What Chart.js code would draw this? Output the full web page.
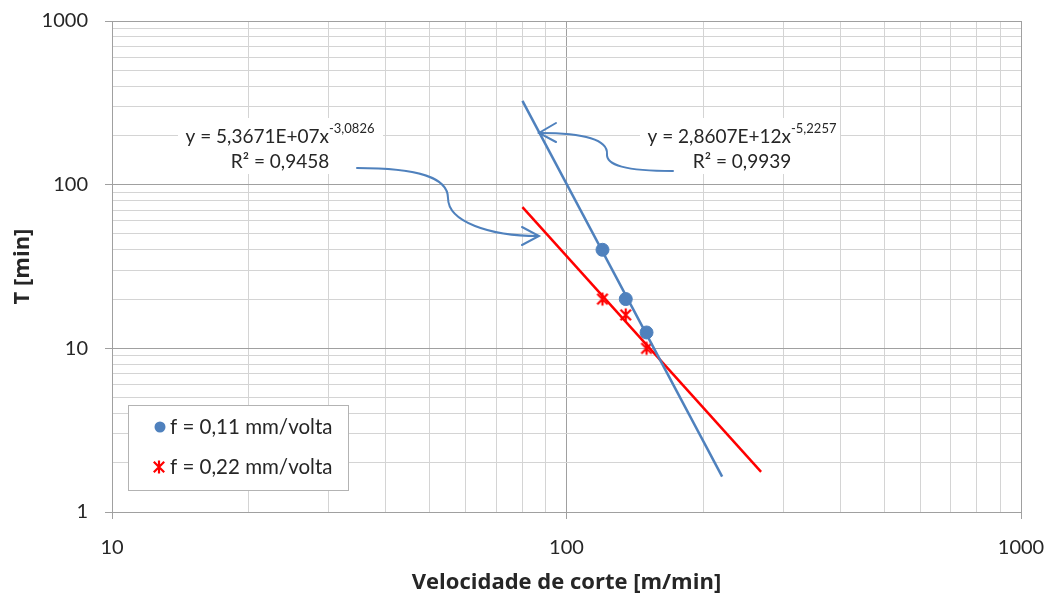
<!DOCTYPE html>
<html>
<head>
<meta charset="utf-8">
<script src="https://cdn.jsdelivr.net/npm/chart.js@4"></script>
<style>
  html, body { margin: 0; padding: 0; background: #fff; }
  #wrap { width: 1055px; height: 601px; }
</style>
</head>
<body>
<div id="wrap"><canvas id="chart" width="1055" height="601"></canvas></div>
<script>
// measured points
const speedA = [120, 135, 150]
const lifeA = [40, 20, 12.5]
const speedB = [120, 135, 150]
const lifeB = [20, 16, 10]

// power trend lines  T = c * v^k
const trendA = { c: 2.8607e12, k: -5.2257, from: 80, to: 220 }
const trendB = { c: 5.3671e7, k: -3.0826, from: 80, to: 268 }

const xTicks = [10, 100, 1000]
const yTicks = [1, 10, 100, 1000]

const FONT = 'Lato, "Open Sans", sans-serif'
const TFONT = '"Open Sans", sans-serif'
const BLUE = '#4F81BD'
const RED = '#FF0000'

function trendPoints(t) {
  return [t.from, t.to].map(v => ({ x: v, y: t.c * Math.pow(v, t.k) }))
}

// excel-like star marker (X with a vertical bar)
function starMarker(size, color) {
  const c = document.createElement('canvas')
  c.width = size; c.height = size
  const g = c.getContext('2d')
  g.strokeStyle = color; g.lineWidth = 2.2
  const m = size / 2, r = size / 2 - 1.5
  g.beginPath()
  g.moveTo(m - r * 0.8, m - r * 0.8); g.lineTo(m + r * 0.8, m + r * 0.8)
  g.moveTo(m + r * 0.8, m - r * 0.8); g.lineTo(m - r * 0.8, m + r * 0.8)
  g.moveTo(m, m - r); g.lineTo(m, m + r)
  g.stroke()
  return c
}
const star = starMarker(16, RED)

function isMajor(v) {
  const l = Math.log10(v)
  return Math.abs(l - Math.round(l)) < 1e-9
}

function noPad(s) {
  s.paddingTop = 0; s.paddingBottom = 0; s.paddingLeft = 0; s.paddingRight = 0
}

// equation boxes + curved arrows + legend box
const extras = {
  id: 'extras',
  afterDraw(chart) {
    const ctx = chart.ctx
    ctx.save()

    function eqBox(cx, y1, main, sup, r2, box) {
      ctx.fillStyle = '#fff'
      ctx.fillRect(box[0], box[1], box[2], box[3])
      ctx.fillStyle = '#262626'
      ctx.textBaseline = 'middle'
      ctx.font = '19px ' + FONT
      const w1 = ctx.measureText(main).width
      ctx.font = '13px ' + FONT
      const w2 = ctx.measureText(sup).width
      const x0 = cx - (w1 + w2) / 2
      ctx.textAlign = 'left'
      ctx.font = '19px ' + FONT
      ctx.fillText(main, x0, y1)
      ctx.font = '13px ' + FONT
      ctx.fillText(sup, x0 + w1, y1 - 8)
      ctx.font = '19px ' + FONT
      ctx.textAlign = 'center'
      ctx.fillText(r2, cx, y1 + 25)
    }

    eqBox(280, 137, 'y = 5,3671E+07x', '-3,0826', 'R\u00b2 = 0,9458', [178, 118, 205, 56])
    eqBox(742, 137, 'y = 2,8607E+12x', '-5,2257', 'R\u00b2 = 0,9939', [640, 118, 200, 56])

    ctx.strokeStyle = BLUE
    ctx.lineWidth = 2
    ctx.lineCap = 'round'
    // left arrow
    ctx.beginPath()
    ctx.moveTo(357, 168)
    ctx.bezierCurveTo(420, 168, 448, 178, 448, 198)
    ctx.bezierCurveTo(448, 222, 490, 236, 538, 236)
    ctx.stroke()
    ctx.beginPath()
    ctx.moveTo(522, 227); ctx.lineTo(539, 236); ctx.lineTo(522, 245)
    ctx.stroke()
    // right arrow
    ctx.beginPath()
    ctx.moveTo(673, 171)
    ctx.bezierCurveTo(625, 171, 606, 165, 607, 154)
    ctx.bezierCurveTo(608, 140, 585, 133, 540, 133)
    ctx.stroke()
    ctx.beginPath()
    ctx.moveTo(556, 123); ctx.lineTo(539, 133); ctx.lineTo(556, 142)
    ctx.stroke()

    // legend
    ctx.fillStyle = '#fff'
    ctx.fillRect(128, 405, 220, 85)
    ctx.strokeStyle = '#b3b3b3'
    ctx.lineWidth = 1
    ctx.strokeRect(128.5, 405.5, 220, 85)
    ctx.fillStyle = BLUE
    ctx.beginPath(); ctx.arc(160, 427, 5.5, 0, Math.PI * 2); ctx.fill()
    ctx.drawImage(star, 151, 459)
    ctx.fillStyle = '#262626'
    ctx.font = '20.5px ' + FONT
    ctx.textAlign = 'left'
    ctx.textBaseline = 'middle'
    ctx.fillText('f = 0,11 mm/volta', 170, 427)
    ctx.fillText('f = 0,22 mm/volta', 170, 467)

    ctx.restore()
  }
}

new Chart('chart', {
  type: 'scatter',
  data: {
    datasets: [
      {
        label: 'trend A',
        data: trendPoints(trendA),
        showLine: true,
        borderColor: BLUE,
        borderWidth: 2.5,
        pointRadius: 0
      },
      {
        label: 'trend B',
        data: trendPoints(trendB),
        showLine: true,
        borderColor: RED,
        borderWidth: 2.5,
        pointRadius: 0
      },
      {
        label: 'f = 0,11 mm/volta',
        data: speedA.map((v, i) => ({ x: v, y: lifeA[i] })),
        backgroundColor: BLUE,
        borderColor: BLUE,
        pointRadius: 6.5
      },
      {
        label: 'f = 0,22 mm/volta',
        data: speedB.map((v, i) => ({ x: v, y: lifeB[i] })),
        pointStyle: star
      }
    ]
  },
  options: {
    responsive: false,
    animation: false,
    layout: { padding: { top: 21, right: 34, left: 0, bottom: 0 } },
    plugins: { legend: { display: false }, tooltip: { enabled: false } },
    scales: {
      x: {
        type: 'logarithmic',
        min: 10, max: 1000,
        afterFit(s) { s.height = 89; noPad(s) },
        afterBuildTicks(s) {
          const t = []
          for (let d = 10; d < 1000; d *= 10)
            for (let m = 1; m < 10; m++) t.push({ value: d * m })
          t.push({ value: 1000 })
          s.ticks = t
        },
        ticks: {
          autoSkip: false, maxRotation: 0, padding: 17,
          color: '#262626',
          font: { family: FONT, size: 20 },
          callback: v => xTicks.includes(v) ? String(v) : ''
        },
        grid: {
          color: c => isMajor(c.tick.value) ? '#a0a0a0' : '#d4d4d4',
          tickColor: c => isMajor(c.tick.value) ? '#a0a0a0' : 'rgba(0,0,0,0)',
          tickLength: 7
        },
        border: { color: '#a0a0a0' },
        title: {
          display: true,
          text: 'Velocidade de corte [m/min]',
          color: '#262626',
          font: { family: TFONT, size: 22, weight: 'bold' },
          padding: { top: 0, bottom: 5 }
        }
      },
      y: {
        type: 'logarithmic',
        min: 1, max: 1000,
        afterFit(s) { s.width = 112; noPad(s) },
        afterBuildTicks(s) {
          const t = []
          for (let d = 1; d < 1000; d *= 10)
            for (let m = 1; m < 10; m++) t.push({ value: d * m })
          t.push({ value: 1000 })
          s.ticks = t
        },
        ticks: {
          autoSkip: false, padding: 17,
          color: '#262626',
          font: { family: FONT, size: 20 },
          callback: v => yTicks.includes(v) ? String(v) : ''
        },
        grid: {
          color: c => isMajor(c.tick.value) ? '#a0a0a0' : '#d4d4d4',
          tickColor: c => isMajor(c.tick.value) ? '#a0a0a0' : 'rgba(0,0,0,0)',
          tickLength: 7
        },
        border: { color: '#a0a0a0' },
        title: {
          display: true,
          text: 'T [min]',
          color: '#262626',
          font: { family: TFONT, size: 22, weight: 'bold' },
          padding: { top: 10, bottom: 0 }
        }
      }
    }
  },
  plugins: [extras]
})
</script>
</body>
</html>
